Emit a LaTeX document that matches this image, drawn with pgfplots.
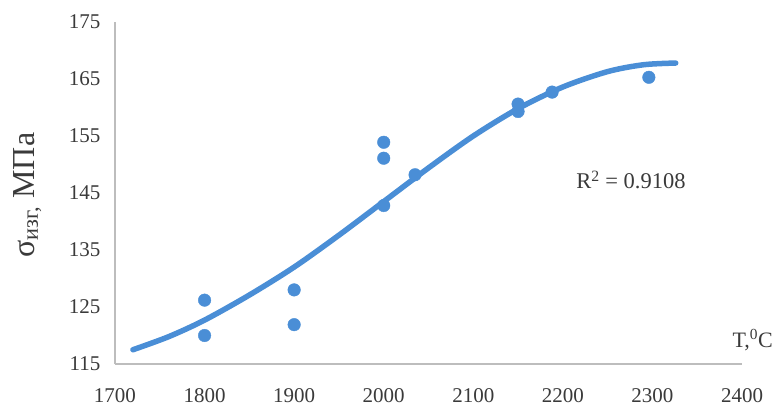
\documentclass[border=0pt]{standalone}
\usepackage{pgfplots}
\pgfplotsset{compat=1.18}
\usepackage{fontspec}
\setmainfont{Liberation Serif}
\definecolor{blu}{HTML}{4A8ED6}
\definecolor{txt}{HTML}{3A3A3A}
\definecolor{axc}{HTML}{BDBDBD}
\begin{document}
\begin{tikzpicture}
\begin{axis}[
  scale only axis, width=627pt, height=342pt,
  xmin=1700, xmax=2400, ymin=115, ymax=175,
  xtick={1700,1800,...,2400}, ytick={115,125,...,175},
  axis lines*=left,
  axis line style={draw=axc, line width=1.2pt},
  major tick length=0pt,
  /pgf/number format/assume math mode=true,
  /pgf/number format/1000 sep={},
  tick label style={font=\fontsize{21}{21}\selectfont, text=txt},
  yticklabel style={xshift=-11pt},
  xticklabel style={yshift=-21pt},
  clip=false,
]
\addplot[blu, line width=5.5pt, smooth, line cap=round] coordinates {
(1720,117.5) (1760,119.8) (1800,122.7) (1850,127.1) (1900,132.0) (1950,137.6)
(2000,143.5) (2050,149.4) (2100,155.0) (2150,159.8) (2200,163.6) (2250,166.3)
(2290,167.5) (2326,167.8)};
\addplot[only marks, mark=*, mark size=6.3pt, blu, mark options={draw=blu, fill=blu}] coordinates {
(1800,126.2) (1800,120.0) (1900,128.0) (1900,121.9)
(2000,153.9) (2000,151.1) (2000,142.8) (2035,148.2)
(2150,160.6) (2150,159.3) (2188,162.7) (2296,165.3)};
\node[font=\fontsize{22.5}{22.5}\selectfont, text=txt] at (axis cs:2276,147.3) {R\textsuperscript{2} = 0.9108};
\node[font=\fontsize{22}{22}\selectfont, text=txt] at (axis description cs:1.017,0.07) {T,\textsuperscript{0}C};
\node[font=\fontsize{32}{32}\selectfont, text=txt, rotate=90] at (axis description cs:-0.14,0.494) {σ\textsubscript{изг,} МПа};
\end{axis}
\useasboundingbox (-115pt,-39pt) rectangle (666pt,364pt);
\end{tikzpicture}
\end{document}
